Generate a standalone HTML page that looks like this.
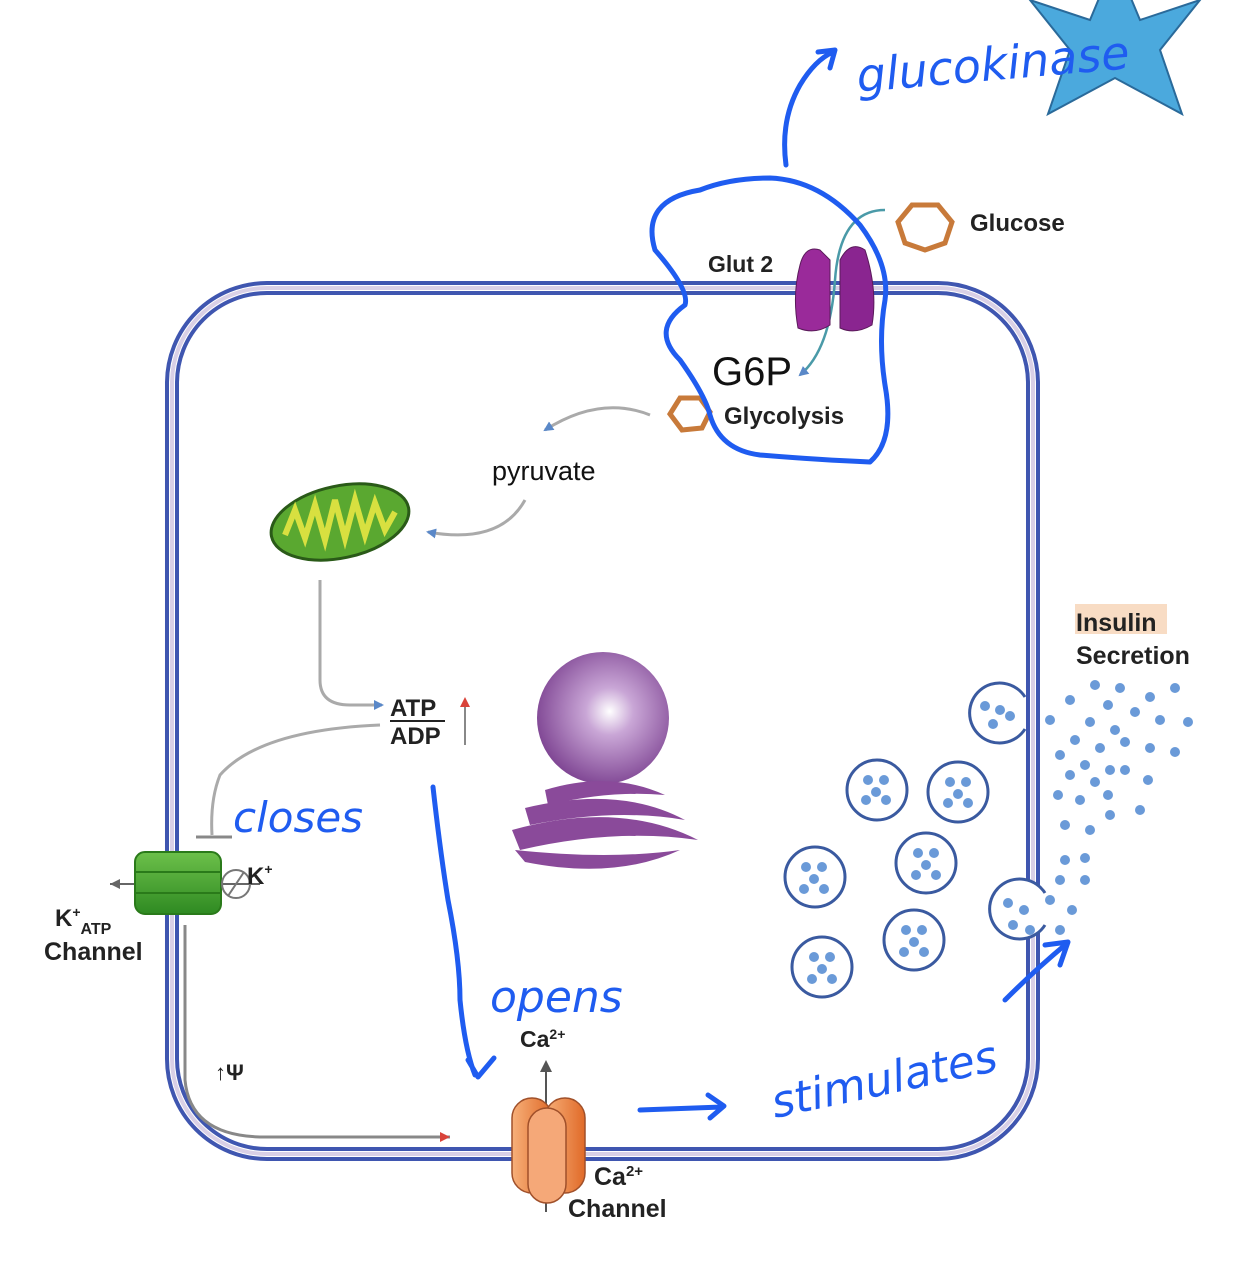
<!DOCTYPE html>
<html><head><meta charset="utf-8"><style>
html,body{margin:0;padding:0;background:#fff;}
svg{display:block;}
text{font-family:"Liberation Sans",sans-serif;}
.b{font-weight:bold;fill:#222;}
.hw{fill:#1f5cf0;font-family:"DejaVu Sans",sans-serif;font-style:italic;}
.bl{fill:none;stroke:#1f5cf0;stroke-width:5;stroke-linecap:round;stroke-linejoin:round;}
</style></head><body>
<svg width="1250" height="1280" viewBox="0 0 1250 1280" xmlns="http://www.w3.org/2000/svg">
<defs>
<radialGradient id="nuc" cx="0.55" cy="0.45" r="0.6"><stop offset="0" stop-color="#fff"/><stop offset="0.3" stop-color="#c9a6d6"/><stop offset="1" stop-color="#7a3f8f"/></radialGradient>
<linearGradient id="org" x1="0" x2="1"><stop offset="0" stop-color="#f7b07a"/><stop offset="1" stop-color="#e06a28"/></linearGradient>
<linearGradient id="grn" x1="0" y1="0" x2="0" y2="1"><stop offset="0" stop-color="#6cc04a"/><stop offset="1" stop-color="#2f8a22"/></linearGradient>
<marker id="ag" markerUnits="userSpaceOnUse" markerWidth="12" markerHeight="10" refX="8" refY="5" orient="auto"><path d="M0,0 L10,5 L0,10z" fill="#5a88c8"/></marker>
</defs>
<polygon points="1115,-40 1140,20 1200,0 1160,50 1182,114 1115,78 1048,114 1070,50 1030,0 1090,20" fill="#4ba9dd" stroke="#2a6a9a" stroke-width="2"/>
<rect x="167" y="283" width="871" height="876" rx="100" fill="none" stroke="#3f56b0" stroke-width="4"/>
<rect x="172" y="288" width="861" height="866" rx="95" fill="none" stroke="#d9d0e6" stroke-width="4"/>
<rect x="177" y="293" width="851" height="856" rx="90" fill="none" stroke="#3f56b0" stroke-width="4"/>
<polygon points="912,205 938,205 952,222 945,243 925,250 905,243 898,222" fill="none" stroke="#c87a3a" stroke-width="5"/>
<text x="970" y="231" class="b" font-size="24">Glucose</text>
<path d="M885,210 Q840,210 835,280 Q830,350 800,375" fill="none" stroke="#4a9aa8" stroke-width="2.5" marker-end="url(#ag)"/>
<path d="M800,265 Q805,245 820,250 L830,260 L830,325 Q815,335 798,328 Q792,295 800,265z" fill="#9a2a9a" stroke="#5a1a5a" stroke-width="1"/>
<path d="M840,260 Q850,240 865,250 Q878,290 872,325 Q855,335 840,328z" fill="#8a2590" stroke="#5a1a5a" stroke-width="1"/>
<text x="708" y="272" class="b" font-size="23">Glut 2</text>
<text x="712" y="385" font-size="40" fill="#111">G6P</text>
<polygon points="680,398 700,398 710,412 702,428 682,430 670,414" fill="none" stroke="#c87a3a" stroke-width="5"/>
<text x="724" y="424" class="b" font-size="24">Glycolysis</text>
<path d="M650,415 Q600,395 545,430" fill="none" stroke="#aaa" stroke-width="3" marker-end="url(#ag)"/>
<text x="492" y="480" font-size="27" fill="#111">pyruvate</text>
<path d="M525,500 Q500,545 428,532" fill="none" stroke="#aaa" stroke-width="3" marker-end="url(#ag)"/>
<ellipse cx="340" cy="522" rx="70" ry="36" transform="rotate(-12 340 522)" fill="#5aa830" stroke="#2a5a18" stroke-width="3"/>
<path d="M285,535 L295,510 L305,538 L315,505 L325,540 L335,500 L345,538 L355,500 L365,535 L375,503 L385,530 L395,512" fill="none" stroke="#d8e040" stroke-width="6"/>
<path d="M320,580 L320,680 Q320,705 350,705 L382,705" fill="none" stroke="#aaa" stroke-width="3" marker-end="url(#ag)"/>
<text x="390" y="716" class="b" font-size="24">ATP</text>
<line x1="390" y1="721" x2="445" y2="721" stroke="#222" stroke-width="2"/>
<text x="390" y="744" class="b" font-size="24">ADP</text>
<line x1="465" y1="745" x2="465" y2="705" stroke="#888" stroke-width="2"/>
<path d="M460,707 L465,697 L470,707z" fill="#d9433a"/>
<path d="M380,725 Q260,730 220,775 Q210,800 212,835" fill="none" stroke="#aaa" stroke-width="3"/>
<line x1="196" y1="837" x2="232" y2="837" stroke="#888" stroke-width="3"/>
<circle cx="603" cy="718" r="66" fill="url(#nuc)"/>
<path d="M545,790 Q610,770 665,795 Q610,790 548,805z" fill="#8a4a9a"/>
<path d="M525,808 Q620,785 685,820 Q615,808 530,825z" fill="#8a4a9a"/>
<path d="M512,830 Q620,800 698,840 Q615,828 520,850z" fill="#8a4a9a"/>
<path d="M515,850 Q610,860 680,850 Q615,880 525,862z" fill="#8a4a9a"/>
<line x1="260" y1="884" x2="110" y2="884" stroke="#666" stroke-width="2"/>
<path d="M110,884 l10,-5 v10z" fill="#666"/>
<rect x="135" y="852" width="86" height="62" rx="10" fill="url(#grn)" stroke="#2a7a1a" stroke-width="2"/>
<line x1="135" y1="872" x2="221" y2="872" stroke="#2a7a1a" stroke-width="2"/>
<line x1="135" y1="893" x2="221" y2="893" stroke="#2a7a1a" stroke-width="2"/>
<circle cx="236" cy="884" r="14" fill="none" stroke="#777" stroke-width="2"/>
<line x1="228" y1="896" x2="244" y2="872" stroke="#777" stroke-width="2"/>
<text x="247" y="884" class="b" font-size="24">K<tspan font-size="14" dy="-10">+</tspan></text>
<text x="55" y="926" class="b" font-size="24">K<tspan font-size="14" dy="-9">+</tspan><tspan font-size="16" dy="17">ATP</tspan></text>
<text x="44" y="960" class="b" font-size="25">Channel</text>
<path d="M185,925 L185,1080 Q190,1135 260,1137 L450,1137" fill="none" stroke="#888" stroke-width="3"/>
<path d="M450,1137 l-10,-5 v10z" fill="#d9433a"/>
<text x="215" y="1080" class="b" font-size="22">↑Ψ</text>
<line x1="546" y1="1212" x2="546" y2="1065" stroke="#555" stroke-width="2"/>
<path d="M540,1072 L546,1060 L552,1072z" fill="#555"/>
<rect x="512" y="1098" width="40" height="95" rx="20" fill="url(#org)" stroke="#a0502a" stroke-width="1.5"/>
<rect x="545" y="1098" width="40" height="95" rx="20" fill="url(#org)" stroke="#a0502a" stroke-width="1.5"/>
<rect x="528" y="1108" width="38" height="95" rx="19" fill="#f5a878" stroke="#a0502a" stroke-width="1.5"/>
<text x="520" y="1047" class="b" font-size="23">Ca<tspan font-size="14" dy="-8">2+</tspan></text>
<text x="594" y="1185" class="b" font-size="25">Ca<tspan font-size="15" dy="-9">2+</tspan></text>
<text x="568" y="1217" class="b" font-size="25">Channel</text>
<rect x="1075" y="604" width="92" height="30" fill="#f8dcc4"/>
<text x="1076" y="631" class="b" font-size="25">Insulin</text>
<text x="1076" y="664" class="b" font-size="25">Secretion</text>
<g fill="#fff" stroke="#3a5aa0" stroke-width="3">
<circle cx="877" cy="790" r="30"/><circle cx="958" cy="792" r="30"/><circle cx="815" cy="877" r="30"/><circle cx="926" cy="863" r="30"/><circle cx="822" cy="967" r="30"/><circle cx="914" cy="940" r="30"/>
<path d="M1025,697 A30,30 0 1 0 1025,729"/><path d="M1045,893 A30,30 0 1 0 1045,925"/>
</g>
<g fill="#6a9ad8">
<circle cx="868" cy="780" r="5"/><circle cx="884" cy="780" r="5"/><circle cx="876" cy="792" r="5"/><circle cx="866" cy="800" r="5"/><circle cx="886" cy="800" r="5"/>
<circle cx="950" cy="782" r="5"/><circle cx="966" cy="782" r="5"/><circle cx="958" cy="794" r="5"/><circle cx="948" cy="803" r="5"/><circle cx="968" cy="803" r="5"/>
<circle cx="806" cy="867" r="5"/><circle cx="822" cy="867" r="5"/><circle cx="814" cy="879" r="5"/><circle cx="804" cy="889" r="5"/><circle cx="824" cy="889" r="5"/>
<circle cx="918" cy="853" r="5"/><circle cx="934" cy="853" r="5"/><circle cx="926" cy="865" r="5"/><circle cx="916" cy="875" r="5"/><circle cx="936" cy="875" r="5"/>
<circle cx="814" cy="957" r="5"/><circle cx="830" cy="957" r="5"/><circle cx="822" cy="969" r="5"/><circle cx="812" cy="979" r="5"/><circle cx="832" cy="979" r="5"/>
<circle cx="906" cy="930" r="5"/><circle cx="922" cy="930" r="5"/><circle cx="914" cy="942" r="5"/><circle cx="904" cy="952" r="5"/><circle cx="924" cy="952" r="5"/>
<circle cx="985" cy="706" r="5"/><circle cx="1000" cy="710" r="5"/><circle cx="993" cy="724" r="5"/><circle cx="1010" cy="716" r="5"/>
<circle cx="1008" cy="903" r="5"/><circle cx="1024" cy="910" r="5"/><circle cx="1013" cy="925" r="5"/><circle cx="1030" cy="930" r="5"/>
<circle cx="1095" cy="685" r="5"/><circle cx="1120" cy="688" r="5"/><circle cx="1150" cy="697" r="5"/><circle cx="1175" cy="688" r="5"/><circle cx="1070" cy="700" r="5"/><circle cx="1108" cy="705" r="5"/><circle cx="1135" cy="712" r="5"/><circle cx="1160" cy="720" r="5"/><circle cx="1188" cy="722" r="5"/>
<circle cx="1050" cy="720" r="5"/><circle cx="1090" cy="722" r="5"/><circle cx="1115" cy="730" r="5"/><circle cx="1075" cy="740" r="5"/><circle cx="1100" cy="748" r="5"/><circle cx="1125" cy="742" r="5"/><circle cx="1150" cy="748" r="5"/><circle cx="1175" cy="752" r="5"/>
<circle cx="1060" cy="755" r="5"/><circle cx="1085" cy="765" r="5"/><circle cx="1110" cy="770" r="5"/><circle cx="1070" cy="775" r="5"/><circle cx="1095" cy="782" r="5"/><circle cx="1125" cy="770" r="5"/><circle cx="1148" cy="780" r="5"/>
<circle cx="1058" cy="795" r="5"/><circle cx="1080" cy="800" r="5"/><circle cx="1108" cy="795" r="5"/><circle cx="1065" cy="825" r="5"/><circle cx="1090" cy="830" r="5"/><circle cx="1110" cy="815" r="5"/><circle cx="1140" cy="810" r="5"/>
<circle cx="1065" cy="860" r="5"/><circle cx="1085" cy="858" r="5"/><circle cx="1060" cy="880" r="5"/><circle cx="1085" cy="880" r="5"/><circle cx="1050" cy="900" r="5"/><circle cx="1072" cy="910" r="5"/><circle cx="1060" cy="930" r="5"/>
</g>
<path class="bl" d="M700,190 Q640,200 655,250 Q690,290 685,305 Q650,330 680,360 Q705,395 710,415 Q720,450 760,455 Q820,460 870,462 Q895,440 885,385 Q878,340 885,300 Q890,265 860,225 Q820,180 770,178 Q730,178 700,190z"/>
<path class="bl" d="M786,165 Q780,120 800,85 Q815,60 833,52 M818,52 L835,50 L830,68"/>
<text x="858" y="92" class="hw" font-size="46" transform="rotate(-5 858 92)">glucokinase</text>
<text x="233" y="832" class="hw" font-size="42">closes</text>
<text x="490" y="1012" class="hw" font-size="44">opens</text>
<path class="bl" d="M433,787 Q440,850 448,900 Q460,960 460,1000 Q465,1050 475,1075 M468,1060 L478,1077 L494,1058"/>
<path class="bl" d="M640,1110 L722,1107 M708,1095 L724,1106 L710,1118"/>
<text x="775" y="1118" class="hw" font-size="44" transform="rotate(-12 775 1118)">stimulates</text>
<path class="bl" d="M1005,1000 Q1035,970 1065,945 M1045,945 L1068,942 L1060,965"/>
</svg>
</body></html>
